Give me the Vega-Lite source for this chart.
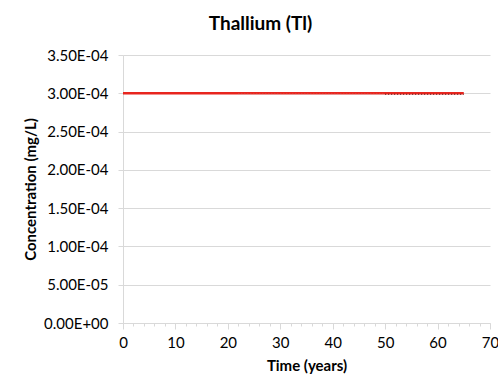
{
  "$schema": "https://vega.github.io/schema/vega-lite/v6.json",
  "width": 367,
  "height": 268,
  "autosize": {"type": "none"},
  "padding": {"left": 123, "top": 55, "right": 8, "bottom": 67},
  "background": "white",
  "title": {
    "text": "Thallium (Tl)",
    "font": "Lato",
    "fontSize": 19,
    "fontWeight": "bold",
    "color": "#000000",
    "anchor": "middle",
    "dx": -46,
    "offset": 14
  },
  "config": {
    "view": {"stroke": null},
    "font": "Lato",
    "axis": {"labelOverlap": false, "labelFlush": false}
  },
  "datasets": {
    "main": [
      {"year": 0, "conc": 0.0003},
      {"year": 5, "conc": 0.0003},
      {"year": 10, "conc": 0.0003},
      {"year": 15, "conc": 0.0003},
      {"year": 20, "conc": 0.0003},
      {"year": 25, "conc": 0.0003},
      {"year": 30, "conc": 0.0003},
      {"year": 35, "conc": 0.0003},
      {"year": 40, "conc": 0.0003},
      {"year": 45, "conc": 0.0003},
      {"year": 50, "conc": 0.0003},
      {"year": 55, "conc": 0.0003},
      {"year": 60, "conc": 0.0003},
      {"year": 65, "conc": 0.0003}
    ],
    "light": [
      {"year": 22, "conc": 0.0003},
      {"year": 50, "conc": 0.0003}
    ],
    "dark": [
      {"year": 50, "conc": 0.0003},
      {"year": 65, "conc": 0.0003}
    ]
  },
  "encoding": {
    "x": {
      "field": "year",
      "type": "quantitative",
      "scale": {"domain": [0, 70], "nice": false, "zero": true},
      "axis": {
        "title": "Time (years)",
        "titleFont": "Lato",
        "titleFontSize": 15,
        "titleFontWeight": "bold",
        "titleColor": "#000000",
        "titlePadding": 8,
        "values": [0, 2, 4, 6, 8, 10, 12, 14, 16, 18, 20, 22, 24, 26, 28, 30, 32, 34, 36, 38, 40, 42, 44, 46, 48, 50, 52, 54, 56, 58, 60, 62, 64, 66, 68, 70],
        "labelExpr": "datum.value % 10 == 0 ? datum.label : ''",
        "labelOverlap": false,
        "labelFlush": false,
        "labelFont": "Lato",
        "labelFontSize": 15,
        "labelColor": "#000000",
        "labelPadding": 6,
        "domainColor": "#d9d9d9",
        "tickColor": "#d9d9d9",
        "tickSize": {"condition": {"test": "datum.value % 10 == 0", "value": 6}, "value": 3},
        "grid": false
      }
    },
    "y": {
      "field": "conc",
      "type": "quantitative",
      "scale": {"domain": [0, 0.00035], "nice": false},
      "axis": {
        "title": "Concentration  (mg/L)",
        "titleFont": "Lato",
        "titleFontSize": 15,
        "titleFontWeight": "bold",
        "titleColor": "#000000",
        "titlePadding": 5,
        "values": [0, 0.00005, 0.0001, 0.00015, 0.0002, 0.00025, 0.0003, 0.00035],
        "labelExpr": "datum.value == 0 ? '0.00E+00' : format(datum.value / pow(10, floor(log(datum.value)/LN10 + 1e-9)), '.2f') + 'E-0' + (-floor(log(datum.value)/LN10 + 1e-9))",
        "labelOverlap": false,
        "labelFlush": false,
        "labelFont": "Lato",
        "labelFontSize": 15,
        "labelColor": "#000000",
        "labelPadding": 10,
        "domainColor": "#d9d9d9",
        "tickColor": "#d9d9d9",
        "tickSize": 5,
        "grid": true,
        "gridColor": "#d9d9d9"
      }
    }
  },
  "layer": [
    {
      "data": {"name": "main"},
      "mark": {"type": "line", "color": "#e8251e", "strokeWidth": 2.5, "clip": false}
    },
    {
      "data": {"name": "light"},
      "mark": {"type": "line", "color": "#c8a0a0", "strokeWidth": 1, "strokeDash": [1, 2], "yOffset": 1}
    },
    {
      "data": {"name": "dark"},
      "mark": {"type": "line", "color": "#4a1a1a", "strokeWidth": 1, "strokeDash": [1, 2], "yOffset": 1}
    }
  ]
}
